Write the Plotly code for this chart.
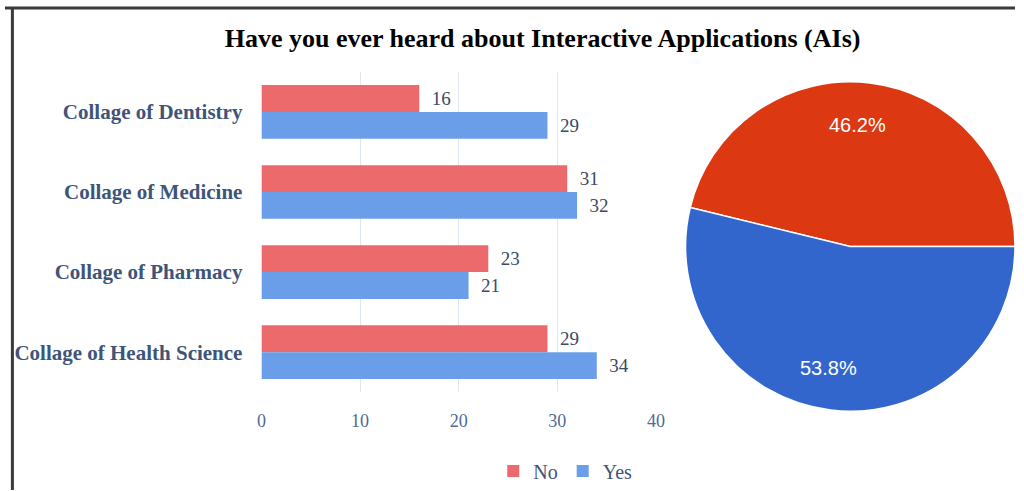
import math
import plotly.graph_objects as go

categories = ["Collage of Dentistry", "Collage of Medicine", "Collage of Pharmacy", "Collage of Health Science"]
no_values = [16, 31, 23, 29]
yes_values = [29, 32, 21, 34]
pie_labels = ["No", "Yes"]
pie_values = [46.2, 53.8]
x_ticks = [0, 10, 20, 30, 40]

W, H = 1024, 491
serif = "Liberation Serif, Times New Roman, serif"
label_color = "#3e5579"

fig = go.Figure()
fig.add_trace(go.Bar(
    y=categories, x=no_values, name="No", orientation="h",
    marker=dict(color="#ec6a6c", line=dict(width=0)),
    text=[f"  {v}" for v in no_values], textposition="outside",
    textfont=dict(family=serif, size=19, color="#3a4a66"),
    cliponaxis=False,
))
fig.add_trace(go.Bar(
    y=categories, x=yes_values, name="Yes", orientation="h",
    marker=dict(color="#6b9ee9", line=dict(width=0)),
    text=[f"  {v}" for v in yes_values], textposition="outside",
    textfont=dict(family=serif, size=19, color="#3a4a66"),
    cliponaxis=False,
))

# pie geometry (pixels)
pie_cx, pie_cy, pie_r = 850, 247, 164
total = sum(pie_values)
# first slice runs clockwise from the rotation angle; end it at 3 o'clock
rot = 90 - 360 * pie_values[0] / total
fig.add_trace(go.Pie(
    labels=pie_labels, values=pie_values, sort=False,
    direction="clockwise", rotation=rot,
    marker=dict(colors=["#dc3912", "#3366cc"], line=dict(color="white", width=1.5)),
    textinfo="none",
    domain=dict(x=[690 / W, 1024 / W], y=[1 - 414 / H, 1 - 80 / H]),
    showlegend=False, hoverinfo="label+percent",
))

# percent labels placed at 75% of the radius, in the middle of each slice (counterclockwise from 3 o'clock)
annotations = []
start = 0.0
for lab, v in zip(pie_labels, pie_values):
    span = 360 * v / total
    mid = math.radians(start + span / 2)
    px = pie_cx + 0.75 * pie_r * math.cos(mid)
    py = pie_cy - 0.75 * pie_r * math.sin(mid)
    annotations.append(dict(
        x=px / W, y=1 - py / H, xref="paper", yref="paper",
        xanchor="center", yanchor="middle",
        text=f"{100 * v / total:.1f}%", showarrow=False,
        font=dict(family="Liberation Sans, Arial, sans-serif", size=20, color="white"),
    ))
    start += span

fig.update_layout(
    width=W, height=H,
    margin=dict(l=0, r=0, t=0, b=0),
    paper_bgcolor="white", plot_bgcolor="white",
    barmode="group", bargap=0.33, bargroupgap=0.0,
    title=dict(
        text="<b>Have you ever heard about Interactive Applications (AIs)</b>",
        font=dict(family=serif, size=26, color="black"),
        x=545 / W, xanchor="center", y=1 - 38 / H, yanchor="middle",
        xref="paper", yref="container",
    ),
    xaxis=dict(
        domain=[260 / W, 660 / W], range=[0, 40],
        tickvals=x_ticks, ticktext=[str(t) for t in x_ticks],
        showgrid=True, gridcolor="#dbe5f3", gridwidth=1,
        zeroline=False, showline=False, ticks="", ticklabelstandoff=16,
        tickfont=dict(family=serif, size=18, color="#4d6a96"),
        fixedrange=True,
    ),
    yaxis=dict(
        domain=[1 - 393 / H, 1 - 72 / H],
        autorange="reversed", showgrid=False, zeroline=False, showline=False,
        ticks="", ticklabelstandoff=18,
        tickfont=dict(family=serif, size=21, color=label_color, weight="bold"),
    ),
    legend=dict(
        orientation="h", x=568 / W, xanchor="center", y=1 - 472 / H, yanchor="middle",
        font=dict(family=serif, size=20, color=label_color),
        itemwidth=30,
    ),
    annotations=annotations,
    shapes=[
        dict(type="line", xref="paper", yref="paper", x0=0, x1=1, y0=1 - 8 / H, y1=1 - 8 / H,
             line=dict(color="#3a3a3a", width=3)),
        dict(type="line", xref="paper", yref="paper", x0=7.5 / W, x1=7.5 / W, y0=0, y1=1 - 8 / H,
             line=dict(color="#3a3a3a", width=3)),
    ],
)

fig.write_html("out.html")
